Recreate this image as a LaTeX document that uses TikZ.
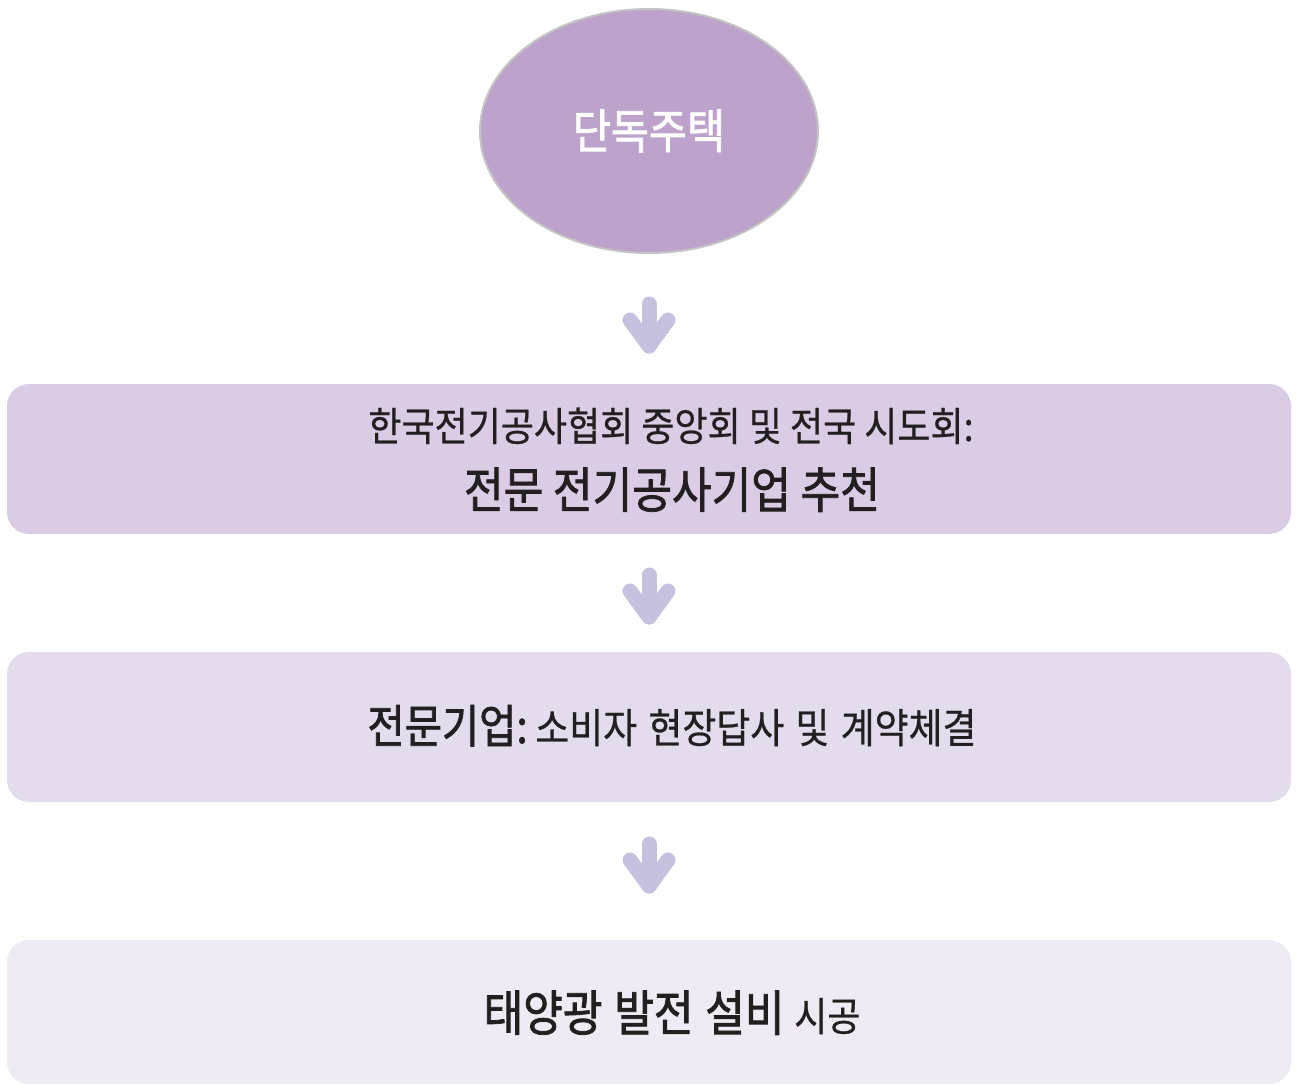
\documentclass[tikz,border=0pt]{standalone}
\usepackage{fontspec}
\newfontfamily\kr[FakeStretch=0.9]{Noto Sans CJK KR}
\newfontfamily\krb[FakeStretch=0.88,FakeBold=1.6]{Noto Sans CJK KR}
\newfontfamily\krm[FakeStretch=0.9,FakeBold=0.6]{Noto Sans CJK KR}
\usetikzlibrary{shapes.geometric}
\definecolor{ellfill}{HTML}{BDA3CB}
\definecolor{ellline}{HTML}{C4C4C4}
\definecolor{boxA}{HTML}{D9CCE4}
\definecolor{boxB}{HTML}{E4DCEC}
\definecolor{boxC}{HTML}{EFEBF4}
\definecolor{arrowc}{HTML}{C5C1DF}
\definecolor{txt}{HTML}{231F20}
\tikzset{
  stepbox/.style={rounded corners=22pt, minimum width=1284pt, inner sep=0pt, draw=none},
  arrowline/.style={draw=arrowc, line width=15pt, line cap=round, line join=round},
  downarrow/.pic={
    \draw[arrowline] (0,-22) -- (0,20);
    \draw[arrowline] (-19,-6) -- (0,20) -- (19,-6);
  },
  lbl/.style={text=txt, inner sep=0pt, anchor=base}
}
\begin{document}
\begin{tikzpicture}[x=1pt,y=-1pt]
\useasboundingbox (0,0) rectangle (1296,1086);
\node[ellipse, minimum width=338pt, minimum height=244pt, fill=ellfill, draw=ellline, line width=2pt, text=white, inner sep=0pt] (house) at (649,131) {\fontsize{47}{50}\selectfont\krb 단독주택};

\node[stepbox, fill=boxA, minimum height=150pt] (b1) at (649,459) {};
\node[stepbox, fill=boxB, minimum height=150pt] (b2) at (649,727) {};
\node[stepbox, fill=boxC, minimum height=144pt] (b3) at (649,1012) {};

\node[lbl] (t1a) at (671,441) {\fontsize{40}{44}\selectfont\krm 한국전기공사협회 중앙회 및 전국 시도회:};
\node[lbl] (t1b) at (672,508) {\fontsize{49}{54}\selectfont\krb 전문 전기공사기업 추천};
\node[lbl] (t2) at (672,743) {\fontsize{46}{50}\selectfont\krb 전문기업:\,\fontsize{41}{44}\selectfont\krm 소비자\hspace{3pt} 현장답사\hspace{3pt} 및\hspace{3pt} 계약체결};
\node[lbl] (t3) at (672,1031) {\fontsize{49}{52}\selectfont\krb 태양광\hspace{2pt} 발전\hspace{2pt} 설비 \fontsize{40}{44}\selectfont\krm 시공};

\coordinate (a1) at (649,326);
\coordinate (a2) at (649,597);
\coordinate (a3) at (649,866);
\pic at (a1) {downarrow};
\pic at (a2) {downarrow};
\pic at (a3) {downarrow};
\end{tikzpicture}
\end{document}
